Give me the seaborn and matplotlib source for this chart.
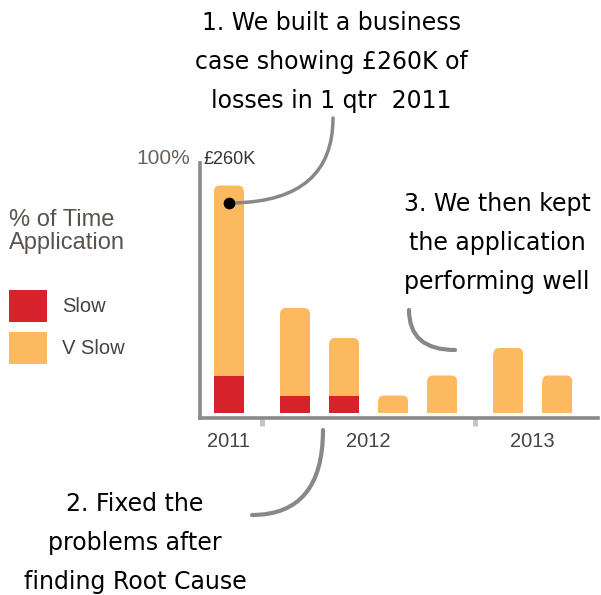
import matplotlib
matplotlib.use("Agg")
import matplotlib.pyplot as plt
from matplotlib.patches import FancyBboxPatch, Patch
import numpy as np
import pandas as pd
import seaborn as sns

# one bar per quarter (% of time, axis top = 100)
years = ["2011", "2012", "2012", "2012", "2012", "2013", "2013"]
slow = [15, 7, 7, 0, 0, 0, 0]
v_slow = [76, 35, 23, 7, 15, 26, 15]
marker_value = 84          # the £260K dot on the first bar

ORANGE = "#FDB95F"
RED = "#D6232B"
SPINE = "#8a8a8a"

df = pd.DataFrame({"year": years, "slow": slow, "v_slow": v_slow})
df["total"] = df["slow"] + df["v_slow"]
# small extra gap between the years
df["pos"] = np.arange(len(df)) + 0.35 * pd.factorize(df["year"])[0]

sns.set_theme(style="white")
plt.rcParams["font.family"] = ["Liberation Sans", "DejaVu Sans"]

W, H = 601, 595
fig = plt.figure(figsize=(W / 100, H / 100), dpi=100)
ax = fig.add_axes([200 / W, 177 / H, 398 / W, 255 / H])

sns.barplot(data=df, x="pos", y="total", native_scale=True, width=0.61,
            color=ORANGE, saturation=1, edgecolor="none", errorbar=None, ax=ax)
n_top = len(ax.patches)
sns.barplot(data=df, x="pos", y="slow", native_scale=True, width=0.61,
            color=RED, saturation=1, edgecolor="none", errorbar=None, ax=ax)

# round off the top corners of the orange bars
rx, ry = 0.12, 2.4
for p in ax.patches[:n_top]:
    x, w, h = p.get_x(), p.get_width(), p.get_height()
    p.set_height(h - ry)
    ax.add_patch(FancyBboxPatch((x, h - 2 * ry), w, 2 * ry,
                                boxstyle=f"round,pad=0,rounding_size={rx}",
                                mutation_aspect=ry / rx, fc=ORANGE, ec="none", zorder=p.get_zorder()))

ax.scatter(df["pos"][0], marker_value, s=55, color="black", zorder=5)

ax.set_ylim(-2, 100)
ax.set_xlim(-0.59, 7.53)
ax.set_yticks([])
ax.set_xlabel("")
ax.set_ylabel("")

centers = df.groupby("year", sort=False)["pos"].mean()
ax.set_xticks(centers.values, centers.index)
change = df.index[df["year"] != df["year"].shift()][1:]
seps = [(df["pos"][i - 1] + df["pos"][i]) / 2 for i in change]
ax.set_xticks(seps, minor=True)
ax.tick_params(axis="x", which="major", length=0, pad=10, labelsize=14.5, labelcolor="#444444")
ax.tick_params(axis="x", which="minor", bottom=True, length=6, width=3.5, color="#c4c4c4")

sns.despine(ax=ax)
for side in ["left", "bottom"]:
    ax.spines[side].set_color(SPINE)
    ax.spines[side].set_linewidth(2.6)

ax.annotate("100%", xy=(0, 1), xycoords="axes fraction", xytext=(-10, 4),
            textcoords="offset pixels", ha="right", va="center", fontsize=15, color="#6b625b")
ax.annotate("£260K", xy=(0, 1), xycoords="axes fraction", xytext=(3, 4),
            textcoords="offset pixels", ha="left", va="center", fontsize=13, color="#333333")

# legend
fig.text(9 / W, 1 - 209 / H, "% of Time\nApplication", ha="left", va="top",
         fontsize=17, color="#5a534d", linespacing=1.05)
handles = [Patch(fc=RED, ec="none", label="Slow"), Patch(fc=ORANGE, ec="none", label="V Slow")]
fig.legend(handles=handles, loc="upper left", bbox_to_anchor=(9 / W, 1 - 290 / H),
           frameon=False, fontsize=14.5, handlelength=1.9, handleheight=2.05,
           handletextpad=0.75, labelspacing=0.5, borderpad=0, borderaxespad=0,
           labelcolor="#444444")

# call-outs
note = dict(ha="center", va="center", fontsize=17, color="black", linespacing=1.8,
            family=["DejaVu Sans"])
fig.text(331 / W, 1 - 62 / H, "1. We built a business\ncase showing £260K of\nlosses in 1 qtr  2011", **note)
fig.text(135 / W, 1 - 543 / H, "2. Fixed the\nproblems after\nfinding Root Cause", **note)
fig.text(497 / W, 1 - 243 / H, "3. We then kept\nthe application\nperforming well", **note)

arc = dict(arrowstyle="-", color="#888888", lw=3, shrinkA=0, shrinkB=0,
           connectionstyle="angle3,angleA=90,angleB=0")
ax.annotate("", xy=(df["pos"][0], marker_value), xycoords="data",
            xytext=(333, H - 118), textcoords="figure pixels",
            arrowprops={**arc, "lw": 2.5, "shrinkB": 5})
ax.annotate("", xy=(252, H - 515), xycoords="figure pixels",
            xytext=(323, H - 430), textcoords="figure pixels", arrowprops=arc, annotation_clip=False)
ax.annotate("", xy=(455, H - 350), xycoords="figure pixels",
            xytext=(409, H - 310), textcoords="figure pixels", arrowprops=arc, annotation_clip=False)

fig.savefig("out.png", dpi=100)
